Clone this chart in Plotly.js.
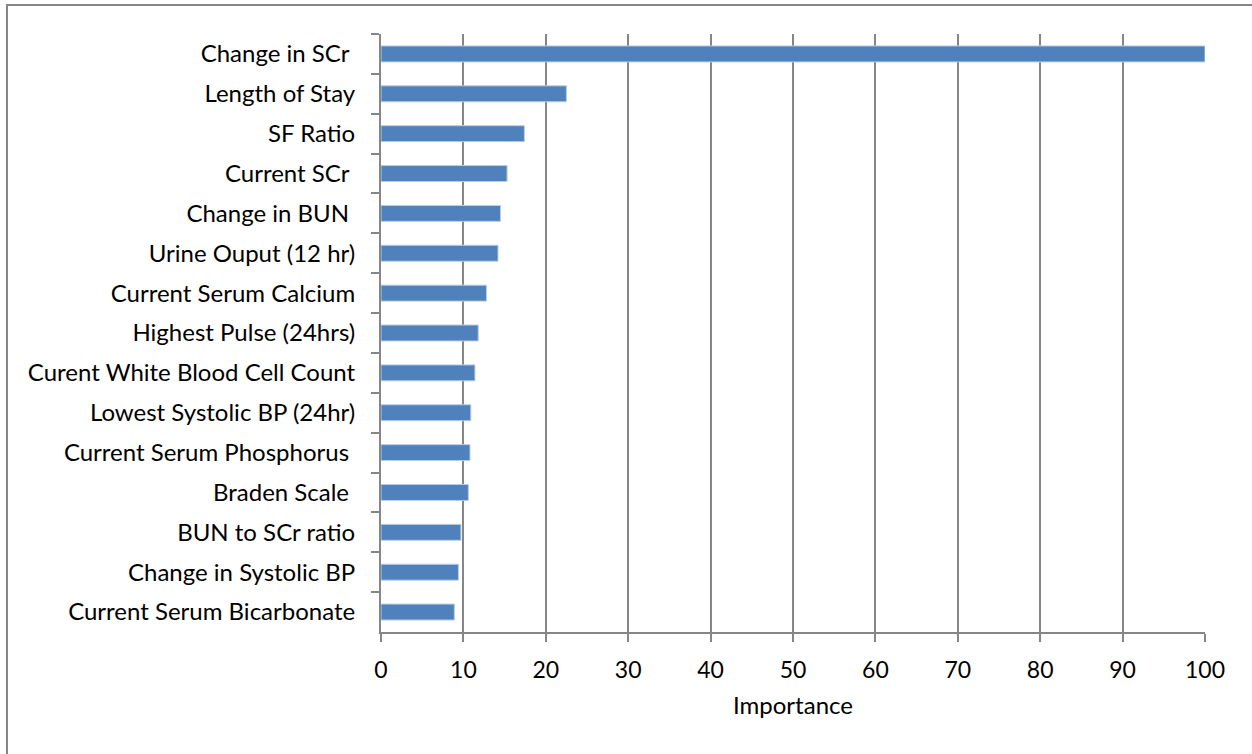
<!DOCTYPE html>
<html>
<head>
<meta charset="utf-8">
<script src="https://cdn.plot.ly/plotly-3.0.1.min.js"></script>
<style>
  html, body { margin: 0; padding: 0; background: #ffffff; }
  #chart { width: 1252px; height: 754px; }
</style>
</head>
<body>
<div id="chart"></div>
<script>
// Predictor names, listed top to bottom
const features = [
  "Change in SCr\u00a0",
  "Length of Stay",
  "SF Ratio",
  "Current SCr\u00a0",
  "Change in BUN\u00a0",
  "Urine Ouput (12 hr)",
  "Current Serum Calcium",
  "Highest Pulse (24hrs)",
  "Curent White Blood Cell Count",
  "Lowest Systolic BP (24hr)",
  "Current Serum Phosphorus\u00a0",
  "Braden Scale\u00a0",
  "BUN to SCr ratio",
  "Change in Systolic BP",
  "Current Serum Bicarbonate"
];

// Relative importance of each predictor
const importance = [100, 22.5, 17.4, 15.3, 14.5, 14.2, 12.8, 11.8, 11.4, 10.9, 10.8, 10.6, 9.7, 9.4, 8.9];

// x axis ticks
const xTicks = [0, 10, 20, 30, 40, 50, 60, 70, 80, 90, 100];

const axisGray = "#868686";
const font = "Lato, 'Open Sans', sans-serif";

const trace = {
  type: "bar",
  orientation: "h",
  x: importance,
  y: features,
  marker: {
    color: "#4F81BD",
    line: { color: "#B9CDE5", width: 1 }
  },
  hoverinfo: "x+y"
};

const layout = {
  width: 1252,
  height: 754,
  margin: { l: 381, r: 47, t: 34, b: 122, pad: 0 },
  paper_bgcolor: "#ffffff",
  plot_bgcolor: "#ffffff",
  showlegend: false,
  bargap: 0.6,
  font: { family: font, size: 22, color: "#000000" },
  xaxis: {
    range: [0, 100],
    tickvals: xTicks,
    ticktext: xTicks.map(String),
    showgrid: true,
    gridcolor: axisGray,
    gridwidth: 2,
    zeroline: false,
    showline: true,
    linecolor: axisGray,
    linewidth: 2,
    ticks: "outside",
    ticklen: 8,
    tickwidth: 2,
    tickcolor: axisGray,
    ticklabelstandoff: 8,
    tickfont: { family: font, size: 23, color: "#000000" },
    title: { text: "Importance", font: { family: font, size: 24, color: "#000000" }, standoff: 16 },
    fixedrange: true
  },
  yaxis: {
    type: "category",
    autorange: "reversed",
    showgrid: false,
    zeroline: false,
    showline: true,
    linecolor: axisGray,
    linewidth: 2,
    ticks: "outside",
    tickson: "boundaries",
    ticklen: 8,
    tickwidth: 2,
    tickcolor: axisGray,
    ticklabelstandoff: 19,
    tickfont: { family: font, size: 24, color: "#000000" },
    fixedrange: true
  },
  shapes: [
    // outer chart frame
    {
      type: "rect", xref: "paper", yref: "paper",
      x0: (7 - 381) / 824, x1: (1262 - 381) / 824,
      y0: (632 - 764) / 598, y1: (632 - 5) / 598,
      line: { color: axisGray, width: 2 },
      fillcolor: "rgba(0,0,0,0)",
      layer: "below"
    }
  ]
};

Plotly.newPlot("chart", [trace], layout, { displayModeBar: false, staticPlot: true });
</script>
</body>
</html>
